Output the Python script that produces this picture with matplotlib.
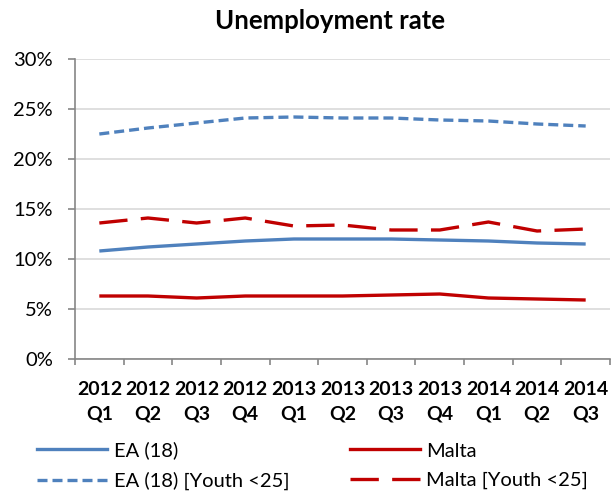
import matplotlib
matplotlib.use("Agg")
import matplotlib.pyplot as plt
from matplotlib.lines import Line2D

plt.rcParams['font.family'] = ['Lato', 'DejaVu Sans']

quarters = ['2012\nQ1', '2012\nQ2', '2012\nQ3', '2012\nQ4', '2013\nQ1', '2013\nQ2',
            '2013\nQ3', '2013\nQ4', '2014\nQ1', '2014\nQ2', '2014\nQ3']
ea = [10.8, 11.2, 11.5, 11.8, 12.0, 12.0, 12.0, 11.9, 11.8, 11.6, 11.5]
malta = [6.3, 6.3, 6.1, 6.3, 6.3, 6.3, 6.4, 6.5, 6.1, 6.0, 5.9]
ea_youth = [22.5, 23.1, 23.6, 24.1, 24.2, 24.1, 24.1, 23.9, 23.8, 23.5, 23.3]
malta_youth = [13.6, 14.1, 13.6, 14.1, 13.3, 13.4, 12.9, 12.9, 13.7, 12.8, 13.0]
yticks = [0, 5, 10, 15, 20, 25, 30]

blue = '#4f81bd'
red = '#c00000'
lw = 2.4
dotted = (3.0, 1.5)
dashed = (8.5, 4.0)

fig = plt.figure(figsize=(6.15, 4.95), dpi=100)
ax = fig.add_axes([75 / 615, 1 - 359 / 495, 535 / 615, 300 / 495])

x = range(len(quarters))
ax.plot(x, ea, color=blue, lw=lw, solid_capstyle='butt')
ax.plot(x, malta, color=red, lw=lw, solid_capstyle='butt')
ax.plot(x, ea_youth, color=blue, lw=lw, dashes=dotted, dash_capstyle='butt')
ax.plot(x, malta_youth, color=red, lw=lw, dashes=dashed, dash_capstyle='butt')

ax.set_xlim(-0.5, len(quarters) - 0.5)
ax.set_ylim(0, 30)
ax.set_yticks(yticks)
ax.set_yticklabels(['{}%'.format(v) for v in yticks], fontsize=14.5)

# category boundaries carry the tick marks, labels sit at the centres
ax.set_xticks([i + 0.5 for i in range(-1, len(quarters))])
ax.set_xticklabels([])
ax.set_xticks(list(x), minor=True)
ax.set_xticklabels(quarters, minor=True, fontsize=14, fontweight='bold',
                   linespacing=1.58)
ax.tick_params(axis='x', which='minor', length=0, pad=15.5)
ax.tick_params(axis='x', which='major', length=4.5, color='#868686', width=1.2)
ax.tick_params(axis='y', length=5, color='#868686', width=1.2, pad=11)

ax.grid(axis='y', color='#d9d9d9', lw=1.2)
ax.set_axisbelow(True)
for side in ('top', 'right'):
    ax.spines[side].set_visible(False)
for side in ('left', 'bottom'):
    ax.spines[side].set_color('#868686')
    ax.spines[side].set_linewidth(1.2)

fig.text(330 / 615, 1 - 29 / 495, 'Unemployment rate', ha='center', va='baseline',
         fontsize=18.5, fontweight='bold')

handles = [
    Line2D([], [], color=blue, lw=lw),
    Line2D([], [], color=blue, lw=lw, dashes=dotted),
    Line2D([], [], color=red, lw=lw),
    Line2D([], [], color=red, lw=lw, dashes=dashed),
]
labels = ['EA (18)', 'EA (18) [Youth <25]', 'Malta', 'Malta [Youth <25]']
fig.legend(handles, labels, ncol=2, loc='center left',
           bbox_to_anchor=(37 / 615, 1 - 466 / 495),
           frameon=False, fontsize=14.5, handlelength=3.5, handletextpad=0.3,
           columnspacing=3.0, labelspacing=0.62, borderaxespad=0, borderpad=0)

fig.savefig('out.png', dpi=100)
